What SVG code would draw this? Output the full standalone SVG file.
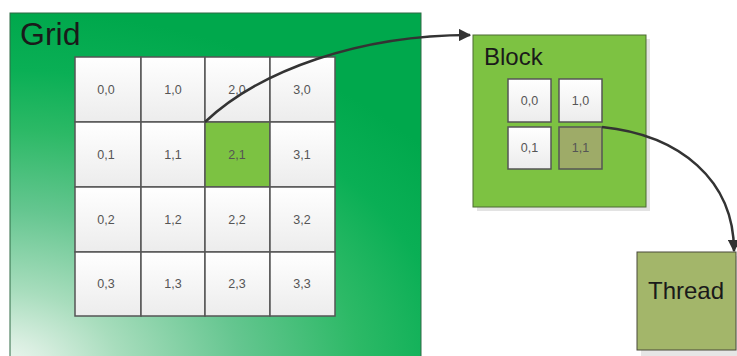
<svg xmlns="http://www.w3.org/2000/svg" width="737" height="356" viewBox="0 0 737 356">
<defs>
<radialGradient id="gridBg" gradientUnits="userSpaceOnUse" cx="0" cy="370" r="400" gradientTransform="translate(0,370) scale(1.5,1) translate(0,-370)">
<stop offset="0" stop-color="#f2f9f4"/>
<stop offset="0.08" stop-color="#d8eee0"/>
<stop offset="0.2" stop-color="#a8ddbd"/>
<stop offset="0.4" stop-color="#65c690"/>
<stop offset="0.6" stop-color="#2cb966"/>
<stop offset="0.75" stop-color="#0aaf55"/>
<stop offset="0.9" stop-color="#00a84c"/>
</radialGradient>
<linearGradient id="cellBg" x1="0" y1="0" x2="0" y2="1">
<stop offset="0" stop-color="#ffffff"/>
<stop offset="1" stop-color="#ececec"/>
</linearGradient>
<marker id="arrow" viewBox="0 0 10 10" refX="9" refY="5" markerWidth="5" markerHeight="5" orient="auto" markerUnits="strokeWidth">
<path d="M0,0 L10,5 L0,10 z" fill="#333333"/>
</marker>
</defs>
<style>
.cell{fill:url(#cellBg);stroke:#555555;stroke-width:1.5}
.ct{font-family:"Liberation Sans",Arial,sans-serif;font-size:12.5px;fill:#555555;text-anchor:middle}
.title{font-family:"Liberation Sans",Arial,sans-serif;fill:#1a1a1a}
.conn{fill:none;stroke:#333333;stroke-width:2.5;marker-end:url(#arrow)}
</style>
<rect width="737" height="356" fill="#ffffff"/>
<g id="grid">
<rect x="10" y="13" width="411" height="350" fill="url(#gridBg)" stroke="#2f6b44" stroke-width="1"/>
<text class="title" x="20" y="45" font-size="32">Grid</text>
<g id="grid-cells">
<rect class="cell" x="75" y="57" width="66" height="65"/>
<rect class="cell" x="141" y="57" width="64" height="65"/>
<rect class="cell" x="205" y="57" width="65" height="65"/>
<rect class="cell" x="270" y="57" width="65" height="65"/>
<rect class="cell" x="75" y="122" width="66" height="65"/>
<rect class="cell" x="141" y="122" width="64" height="65"/>
<rect x="205" y="122" width="65" height="65" fill="#7cc242" stroke="#555555" stroke-width="1.5"/>
<rect class="cell" x="270" y="122" width="65" height="65"/>
<rect class="cell" x="75" y="187" width="66" height="65"/>
<rect class="cell" x="141" y="187" width="64" height="65"/>
<rect class="cell" x="205" y="187" width="65" height="65"/>
<rect class="cell" x="270" y="187" width="65" height="65"/>
<rect class="cell" x="75" y="252" width="66" height="64"/>
<rect class="cell" x="141" y="252" width="64" height="64"/>
<rect class="cell" x="205" y="252" width="65" height="64"/>
<rect class="cell" x="270" y="252" width="65" height="64"/>
<text class="ct" x="106" y="94">0,0</text>
<text class="ct" x="173" y="94">1,0</text>
<text class="ct" x="237" y="94">2,0</text>
<text class="ct" x="302" y="94">3,0</text>
<text class="ct" x="106" y="159">0,1</text>
<text class="ct" x="173" y="159">1,1</text>
<text class="ct" x="237" y="159" fill="#333333">2,1</text>
<text class="ct" x="302" y="159">3,1</text>
<text class="ct" x="106" y="224">0,2</text>
<text class="ct" x="173" y="224">1,2</text>
<text class="ct" x="237" y="224">2,2</text>
<text class="ct" x="302" y="224">3,2</text>
<text class="ct" x="106" y="288">0,3</text>
<text class="ct" x="173" y="288">1,3</text>
<text class="ct" x="237" y="288">2,3</text>
<text class="ct" x="302" y="288">3,3</text>
</g>
</g>
<g id="block">
<rect x="477" y="39" width="173" height="172" fill="#e3e3e3"/>
<rect x="473" y="35" width="173" height="172" fill="#7dc242" stroke="#4d6b33" stroke-width="1"/>
<text class="title" x="484" y="65" font-size="24">Block</text>
<rect class="cell" x="508" y="79" width="43" height="43"/>
<rect class="cell" x="559" y="79" width="43" height="43"/>
<rect class="cell" x="508" y="127" width="43" height="42"/>
<rect x="559" y="127" width="43" height="42" fill="#9eab68" stroke="#555555" stroke-width="1.5"/>
<text class="ct" x="529.5" y="105">0,0</text>
<text class="ct" x="580.5" y="105">1,0</text>
<text class="ct" x="529.5" y="152">0,1</text>
<text class="ct" x="580.5" y="152" fill="#3a3a3a">1,1</text>
</g>
<g id="thread">
<rect x="641" y="256" width="96" height="100" fill="#e6e6e6"/>
<rect x="637" y="252" width="99" height="98" fill="#a3b66a" stroke="#4a4a3a" stroke-width="1"/>
<text class="title" x="686" y="299" font-size="24" text-anchor="middle">Thread</text>
</g>
<g id="connectors">
<path class="conn" d="M205,122 C260,70 360,35 470,35"/>
<path class="conn" d="M602,127 C680,135 734,180 734,251"/>
</g>
</svg>
